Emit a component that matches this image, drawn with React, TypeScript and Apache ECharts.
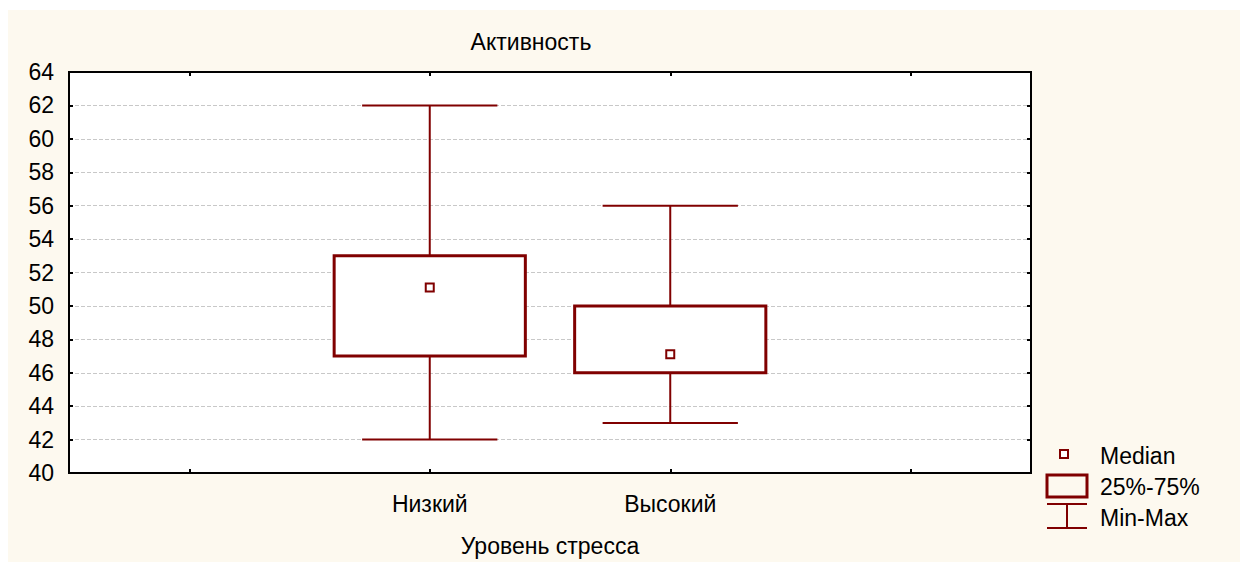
import React, { useEffect, useRef } from "react";
import * as echarts from "echarts";

const categories = ["Низкий", "Высокий"];
const minValues = [42, 43];
const q1Values = [47, 46];
const medianValues = [51.1, 47.1];
const q3Values = [53, 50];
const maxValues = [62, 56];
const yTicks = [40, 42, 44, 46, 48, 50, 52, 54, 56, 58, 60, 62, 64];

const titleText = "Активность";
const xAxisName = "Уровень стресса";
const legendLabels = ["Median", "25%-75%", "Min-Max"];

const FONT = "'Liberation Sans', Arial, sans-serif";
const RED = "#800000";
const BG = "#fdf9ef";
const FS = 23;

export default function App() {
  const ref = useRef<HTMLDivElement>(null);
  useEffect(() => {
    if (!ref.current) return;
    const chart = echarts.init(ref.current, undefined, { renderer: "svg" });
    const axisCategories = ["", ...categories, ""];
    const data = categories.map((_, i) => [
      i + 1,
      minValues[i],
      q1Values[i],
      medianValues[i],
      q3Values[i],
      maxValues[i],
    ]);
    const yMin = yTicks[0];
    const yMax = yTicks[yTicks.length - 1];
    const commonY = {
      type: "value",
      min: yMin,
      max: yMax,
      interval: 2,
      axisLine: { show: false },
      splitLine: { show: false },
    };
    const commonX = {
      type: "category",
      data: axisCategories,
      axisLine: { show: false },
      splitLine: { show: false },
    };
    const renderItem = (params: any, api: any) => {
      const x = api.value(0);
      const band = api.size([1, 0])[0];
      const boxW = band * 0.795;
      const capW = band * 0.5625;
      const pMin = api.coord([x, api.value(1)]);
      const pQ1 = api.coord([x, api.value(2)]);
      const pMed = api.coord([x, api.value(3)]);
      const pQ3 = api.coord([x, api.value(4)]);
      const pMax = api.coord([x, api.value(5)]);
      const cx = pMin[0];
      const wStyle = { stroke: RED, lineWidth: 2, fill: "none" };
      return {
        type: "group",
        children: [
          { type: "line", shape: { x1: cx, y1: pMax[1], x2: cx, y2: pQ3[1] }, style: wStyle },
          { type: "line", shape: { x1: cx, y1: pQ1[1], x2: cx, y2: pMin[1] }, style: wStyle },
          { type: "line", shape: { x1: cx - capW / 2, y1: pMax[1], x2: cx + capW / 2, y2: pMax[1] }, style: wStyle },
          { type: "line", shape: { x1: cx - capW / 2, y1: pMin[1], x2: cx + capW / 2, y2: pMin[1] }, style: wStyle },
          {
            type: "rect",
            shape: { x: cx - boxW / 2, y: pQ3[1], width: boxW, height: pQ1[1] - pQ3[1] },
            style: { stroke: RED, lineWidth: 3, fill: "#ffffff" },
          },
          {
            type: "rect",
            shape: { x: cx - 4, y: pMed[1] - 4, width: 8, height: 8 },
            style: { stroke: RED, lineWidth: 2, fill: "#ffffff" },
          },
        ],
      };
    };
    const legendX = 1039;
    const textX = 1092;
    chart.setOption({
      animation: false,
      backgroundColor: BG,
      textStyle: { fontFamily: FONT },
      grid: {
        left: 61,
        top: 62,
        right: 215,
        bottom: 87,
        show: true,
        backgroundColor: "#ffffff",
        borderColor: "#000000",
        borderWidth: 2,
        z: 0,
      },
      xAxis: [
        {
          ...commonX,
          position: "bottom",
          axisTick: { show: true, inside: true, alignWithLabel: true, length: 4, lineStyle: { color: "#000", width: 2 } },
          axisLabel: { show: true, margin: 19, color: "#000", fontSize: FS, fontFamily: FONT },
          name: xAxisName,
          nameLocation: "middle",
          nameGap: 61,
          nameTextStyle: { color: "#000", fontSize: FS, fontFamily: FONT, verticalAlign: "top" },
        },
        {
          ...commonX,
          position: "top",
          axisTick: { show: true, inside: true, alignWithLabel: true, length: 4, lineStyle: { color: "#000", width: 2 } },
          axisLabel: { show: false },
        },
      ],
      yAxis: [
        {
          ...commonY,
          position: "left",
          axisTick: { show: true, inside: true, length: 4, lineStyle: { color: "#000", width: 2 } },
          axisLabel: { show: true, margin: 15, color: "#000", fontSize: FS, fontFamily: FONT },
          splitLine: {
            show: true,
            showMinLine: false,
            showMaxLine: false,
            lineStyle: { color: "#c8c8c8", type: [4, 2], width: 1 },
          },
        },
        {
          ...commonY,
          position: "right",
          axisTick: { show: true, inside: true, length: 4, lineStyle: { color: "#000", width: 2 } },
          axisLabel: { show: false },
        },
      ],
      series: [
        {
          type: "custom",
          name: "Box",
          renderItem,
          encode: { x: 0, y: [1, 2, 3, 4, 5] },
          data,
          z: 10,
        },
      ],
      graphic: [
        {
          type: "text",
          x: 523,
          y: 32,
          style: { text: titleText, fill: "#000", font: `${FS}px ${FONT}`, textAlign: "center", textVerticalAlign: "middle" },
        },
        {
          type: "rect",
          shape: { x: legendX + 13, y: 440, width: 8, height: 8 },
          style: { stroke: RED, lineWidth: 2, fill: "#ffffff" },
        },
        {
          type: "rect",
          shape: { x: legendX, y: 465, width: 40, height: 22 },
          style: { stroke: RED, lineWidth: 3, fill: "none" },
        },
        {
          type: "line",
          shape: { x1: legendX, y1: 494, x2: legendX + 40, y2: 494 },
          style: { stroke: RED, lineWidth: 2 },
        },
        {
          type: "line",
          shape: { x1: legendX + 20, y1: 494, x2: legendX + 20, y2: 518 },
          style: { stroke: RED, lineWidth: 2 },
        },
        {
          type: "line",
          shape: { x1: legendX, y1: 518, x2: legendX + 40, y2: 518 },
          style: { stroke: RED, lineWidth: 2 },
        },
        ...legendLabels.map((t, i) => ({
          type: "text",
          x: textX,
          y: 446 + i * 31,
          style: { text: t, fill: "#000", font: `${FS}px ${FONT}`, textAlign: "left", textVerticalAlign: "middle" },
        })),
      ],
    });
    return () => chart.dispose();
  }, []);
  return <div ref={ref} style={{ width: 1238, height: 552, marginTop: 2 }} />;
}
